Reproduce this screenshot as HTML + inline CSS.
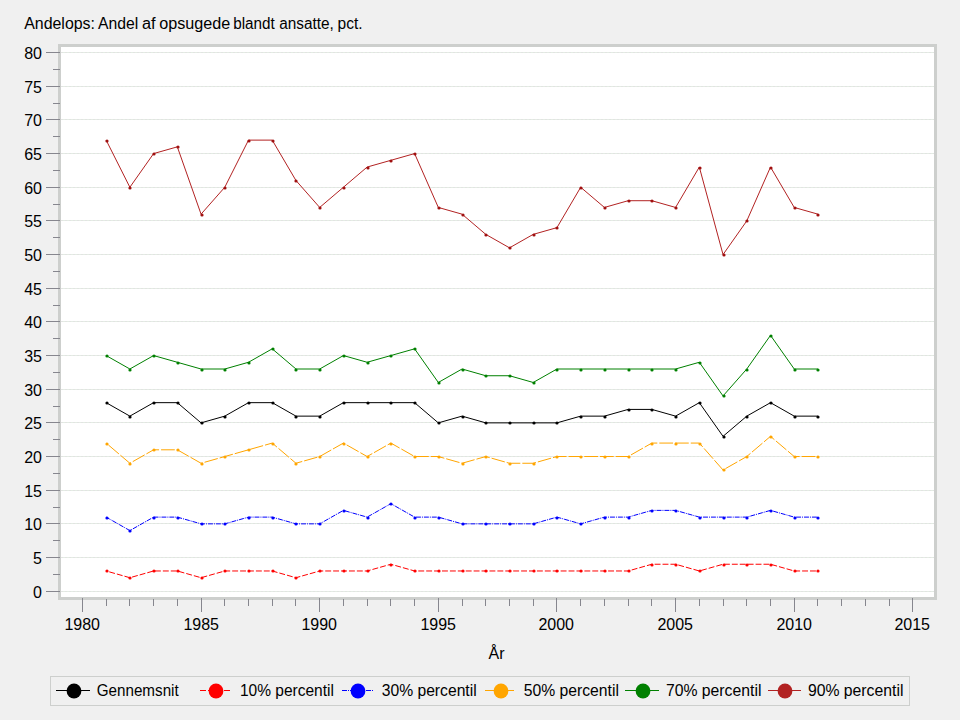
<!DOCTYPE html>
<html><head><meta charset="utf-8"><style>
html,body{margin:0;padding:0;background:#f0f0f0;}
svg{display:block;font-family:"Liberation Sans", sans-serif;}
text{fill:#000;}
</style></head><body>
<svg width="960" height="720" viewBox="0 0 960 720">
<rect x="0" y="0" width="960" height="720" fill="#f0f0f0"/>
<g font-size="16"><text x="24.2" y="29" textLength="70.8" lengthAdjust="spacingAndGlyphs">Andelops:</text><text x="97.9" y="29" textLength="40.3" lengthAdjust="spacingAndGlyphs">Andel</text><text x="142.0" y="29" textLength="13.6" lengthAdjust="spacingAndGlyphs">af</text><text x="159.3" y="29" textLength="71.0" lengthAdjust="spacingAndGlyphs">opsugede</text><text x="233.2" y="29" textLength="41.6" lengthAdjust="spacingAndGlyphs">blandt</text><text x="279.2" y="29" textLength="54.6" lengthAdjust="spacingAndGlyphs">ansatte,</text><text x="337.6" y="29" textLength="25.0" lengthAdjust="spacingAndGlyphs">pct.</text></g>
<rect x="58" y="44" width="879" height="556" fill="#cdcfcd"/>
<rect x="61" y="47" width="873" height="550" fill="#ffffff"/>
<path d="M61 591.5H934 M61 557.5H934 M61 523.5H934 M61 490.5H934 M61 456.5H934 M61 422.5H934 M61 389.5H934 M61 355.5H934 M61 321.5H934 M61 288.5H934 M61 254.5H934 M61 220.5H934 M61 187.5H934 M61 153.5H934 M61 119.5H934 M61 86.5H934 M61 52.5H934" stroke="#e2e3e2" stroke-width="1" fill="none" stroke-dasharray="2 2" stroke-dashoffset="0"/>
<path d="M61 591.5H934 M61 557.5H934 M61 523.5H934 M61 490.5H934 M61 456.5H934 M61 422.5H934 M61 389.5H934 M61 355.5H934 M61 321.5H934 M61 288.5H934 M61 254.5H934 M61 220.5H934 M61 187.5H934 M61 153.5H934 M61 119.5H934 M61 86.5H934 M61 52.5H934" stroke="#e3ece3" stroke-width="1" fill="none" stroke-dasharray="2 2" stroke-dashoffset="2"/>
<path d="M46 591.5H60 M53 574.5H60 M46 557.5H60 M53 540.5H60 M46 523.5H60 M53 507.5H60 M46 490.5H60 M53 473.5H60 M46 456.5H60 M53 439.5H60 M46 422.5H60 M53 406.5H60 M46 389.5H60 M53 372.5H60 M46 355.5H60 M53 338.5H60 M46 321.5H60 M53 305.5H60 M46 288.5H60 M53 271.5H60 M46 254.5H60 M53 237.5H60 M46 220.5H60 M53 204.5H60 M46 187.5H60 M53 170.5H60 M46 153.5H60 M53 136.5H60 M46 119.5H60 M53 103.5H60 M46 86.5H60 M53 69.5H60 M46 52.5H60 M82.5 598V612 M106.5 599V606 M129.5 599V606 M153.5 599V606 M177.5 599V606 M201.5 598V612 M224.5 599V606 M248.5 599V606 M272.5 599V606 M295.5 599V606 M319.5 598V612 M343.5 599V606 M367.5 599V606 M390.5 599V606 M414.5 599V606 M438.5 598V612 M462.5 599V606 M485.5 599V606 M509.5 599V606 M533.5 599V606 M556.5 598V612 M580.5 599V606 M604.5 599V606 M628.5 599V606 M651.5 599V606 M675.5 598V612 M699.5 599V606 M723.5 599V606 M746.5 599V606 M770.5 599V606 M794.5 598V612 M817.5 599V606 M841.5 599V606 M865.5 599V606 M889.5 599V606 M912.5 598V612" stroke="#86868e" stroke-width="1" fill="none" shape-rendering="crispEdges"/>
<g font-size="16"><text x="42" y="597.5" text-anchor="end">0</text><text x="42" y="563.5" text-anchor="end">5</text><text x="42" y="529.5" text-anchor="end">10</text><text x="42" y="496.5" text-anchor="end">15</text><text x="42" y="462.5" text-anchor="end">20</text><text x="42" y="428.5" text-anchor="end">25</text><text x="42" y="395.5" text-anchor="end">30</text><text x="42" y="361.5" text-anchor="end">35</text><text x="42" y="327.5" text-anchor="end">40</text><text x="42" y="294.5" text-anchor="end">45</text><text x="42" y="260.5" text-anchor="end">50</text><text x="42" y="226.5" text-anchor="end">55</text><text x="42" y="193.5" text-anchor="end">60</text><text x="42" y="159.5" text-anchor="end">65</text><text x="42" y="125.5" text-anchor="end">70</text><text x="42" y="92.5" text-anchor="end">75</text><text x="42" y="58.5" text-anchor="end">80</text><text x="82.2" y="630" text-anchor="middle">1980</text><text x="201.2" y="630" text-anchor="middle">1985</text><text x="319.2" y="630" text-anchor="middle">1990</text><text x="438.2" y="630" text-anchor="middle">1995</text><text x="556.2" y="630" text-anchor="middle">2000</text><text x="675.2" y="630" text-anchor="middle">2005</text><text x="794.2" y="630" text-anchor="middle">2010</text><text x="912.2" y="630" text-anchor="middle">2015</text><text x="488.5" y="659">År</text></g>
<path d="M106.15 402.67 L129.87 416.14 L153.60 402.67 L177.33 402.67 L201.05 422.87 L224.78 416.14 L248.51 402.67 L272.23 402.67 L295.96 416.14 L319.69 416.14 L343.41 402.67 L367.14 402.67 L390.87 402.67 L414.60 402.67 L438.32 422.87 L462.05 416.14 L485.78 422.87 L509.50 422.87 L533.23 422.87 L556.96 422.87 L580.68 416.14 L604.41 416.14 L628.14 409.41 L651.86 409.41 L675.59 416.14 L699.32 402.67 L723.04 436.33 L746.77 416.14 L770.50 402.67 L794.22 416.14 L817.95 416.14" stroke="#000000" stroke-width="1" fill="none"/>
<g fill="#000000"><circle cx="107" cy="403" r="1.6"/><circle cx="130" cy="417" r="1.6"/><circle cx="154" cy="403" r="1.6"/><circle cx="178" cy="403" r="1.6"/><circle cx="202" cy="423" r="1.6"/><circle cx="225" cy="417" r="1.6"/><circle cx="249" cy="403" r="1.6"/><circle cx="273" cy="403" r="1.6"/><circle cx="296" cy="417" r="1.6"/><circle cx="320" cy="417" r="1.6"/><circle cx="344" cy="403" r="1.6"/><circle cx="368" cy="403" r="1.6"/><circle cx="391" cy="403" r="1.6"/><circle cx="415" cy="403" r="1.6"/><circle cx="439" cy="423" r="1.6"/><circle cx="463" cy="417" r="1.6"/><circle cx="486" cy="423" r="1.6"/><circle cx="510" cy="423" r="1.6"/><circle cx="534" cy="423" r="1.6"/><circle cx="557" cy="423" r="1.6"/><circle cx="581" cy="417" r="1.6"/><circle cx="605" cy="417" r="1.6"/><circle cx="629" cy="410" r="1.6"/><circle cx="652" cy="410" r="1.6"/><circle cx="676" cy="417" r="1.6"/><circle cx="700" cy="403" r="1.6"/><circle cx="724" cy="437" r="1.6"/><circle cx="747" cy="417" r="1.6"/><circle cx="771" cy="403" r="1.6"/><circle cx="795" cy="417" r="1.6"/><circle cx="818" cy="417" r="1.6"/></g>
<path d="M106.15 570.98 L129.87 577.71 L153.60 570.98 L177.33 570.98 L201.05 577.71 L224.78 570.98 L248.51 570.98 L272.23 570.98 L295.96 577.71 L319.69 570.98 L343.41 570.98 L367.14 570.98 L390.87 564.24 L414.60 570.98 L438.32 570.98 L462.05 570.98 L485.78 570.98 L509.50 570.98 L533.23 570.98 L556.96 570.98 L580.68 570.98 L604.41 570.98 L628.14 570.98 L651.86 564.24 L675.59 564.24 L699.32 570.98 L723.04 564.24 L746.77 564.24 L770.50 564.24 L794.22 570.98 L817.95 570.98" stroke="#ff0000" stroke-width="1" fill="none" stroke-dasharray="5.91 2" stroke-dashoffset="4.7"/>
<g fill="#ff0000"><circle cx="107" cy="571" r="1.6"/><circle cx="130" cy="578" r="1.6"/><circle cx="154" cy="571" r="1.6"/><circle cx="178" cy="571" r="1.6"/><circle cx="202" cy="578" r="1.6"/><circle cx="225" cy="571" r="1.6"/><circle cx="249" cy="571" r="1.6"/><circle cx="273" cy="571" r="1.6"/><circle cx="296" cy="578" r="1.6"/><circle cx="320" cy="571" r="1.6"/><circle cx="344" cy="571" r="1.6"/><circle cx="368" cy="571" r="1.6"/><circle cx="391" cy="565" r="1.6"/><circle cx="415" cy="571" r="1.6"/><circle cx="439" cy="571" r="1.6"/><circle cx="463" cy="571" r="1.6"/><circle cx="486" cy="571" r="1.6"/><circle cx="510" cy="571" r="1.6"/><circle cx="534" cy="571" r="1.6"/><circle cx="557" cy="571" r="1.6"/><circle cx="581" cy="571" r="1.6"/><circle cx="605" cy="571" r="1.6"/><circle cx="629" cy="571" r="1.6"/><circle cx="652" cy="565" r="1.6"/><circle cx="676" cy="565" r="1.6"/><circle cx="700" cy="571" r="1.6"/><circle cx="724" cy="565" r="1.6"/><circle cx="747" cy="565" r="1.6"/><circle cx="771" cy="565" r="1.6"/><circle cx="795" cy="571" r="1.6"/><circle cx="818" cy="571" r="1.6"/></g>
<path d="M106.15 517.12 L129.87 530.58 L153.60 517.12 L177.33 517.12 L201.05 523.85 L224.78 523.85 L248.51 517.12 L272.23 517.12 L295.96 523.85 L319.69 523.85 L343.41 510.39 L367.14 517.12 L390.87 503.65 L414.60 517.12 L438.32 517.12 L462.05 523.85 L485.78 523.85 L509.50 523.85 L533.23 523.85 L556.96 517.12 L580.68 523.85 L604.41 517.12 L628.14 517.12 L651.86 510.39 L675.59 510.39 L699.32 517.12 L723.04 517.12 L746.77 517.12 L770.50 510.39 L794.22 517.12 L817.95 517.12" stroke="#0000ff" stroke-width="1" fill="none" stroke-dasharray="4.94 0.99 0.99 0.99" stroke-dashoffset="0.85"/>
<g fill="#0000ff"><circle cx="107" cy="518" r="1.6"/><circle cx="130" cy="531" r="1.6"/><circle cx="154" cy="518" r="1.6"/><circle cx="178" cy="518" r="1.6"/><circle cx="202" cy="524" r="1.6"/><circle cx="225" cy="524" r="1.6"/><circle cx="249" cy="518" r="1.6"/><circle cx="273" cy="518" r="1.6"/><circle cx="296" cy="524" r="1.6"/><circle cx="320" cy="524" r="1.6"/><circle cx="344" cy="511" r="1.6"/><circle cx="368" cy="518" r="1.6"/><circle cx="391" cy="504" r="1.6"/><circle cx="415" cy="518" r="1.6"/><circle cx="439" cy="518" r="1.6"/><circle cx="463" cy="524" r="1.6"/><circle cx="486" cy="524" r="1.6"/><circle cx="510" cy="524" r="1.6"/><circle cx="534" cy="524" r="1.6"/><circle cx="557" cy="518" r="1.6"/><circle cx="581" cy="524" r="1.6"/><circle cx="605" cy="518" r="1.6"/><circle cx="629" cy="518" r="1.6"/><circle cx="652" cy="511" r="1.6"/><circle cx="676" cy="511" r="1.6"/><circle cx="700" cy="518" r="1.6"/><circle cx="724" cy="518" r="1.6"/><circle cx="747" cy="518" r="1.6"/><circle cx="771" cy="511" r="1.6"/><circle cx="795" cy="518" r="1.6"/><circle cx="818" cy="518" r="1.6"/></g>
<path d="M106.15 443.07 L129.87 463.26 L153.60 449.80 L177.33 449.80 L201.05 463.26 L224.78 456.53 L248.51 449.80 L272.23 443.07 L295.96 463.26 L319.69 456.53 L343.41 443.07 L367.14 456.53 L390.87 443.07 L414.60 456.53 L438.32 456.53 L462.05 463.26 L485.78 456.53 L509.50 463.26 L533.23 463.26 L556.96 456.53 L580.68 456.53 L604.41 456.53 L628.14 456.53 L651.86 443.07 L675.59 443.07 L699.32 443.07 L723.04 469.99 L746.77 456.53 L770.50 436.33 L794.22 456.53 L817.95 456.53" stroke="#ffa500" stroke-width="1" fill="none" stroke-dasharray="13.72 2" stroke-dashoffset="12.7"/>
<g fill="#ffa500"><circle cx="107" cy="444" r="1.6"/><circle cx="130" cy="464" r="1.6"/><circle cx="154" cy="450" r="1.6"/><circle cx="178" cy="450" r="1.6"/><circle cx="202" cy="464" r="1.6"/><circle cx="225" cy="457" r="1.6"/><circle cx="249" cy="450" r="1.6"/><circle cx="273" cy="444" r="1.6"/><circle cx="296" cy="464" r="1.6"/><circle cx="320" cy="457" r="1.6"/><circle cx="344" cy="444" r="1.6"/><circle cx="368" cy="457" r="1.6"/><circle cx="391" cy="444" r="1.6"/><circle cx="415" cy="457" r="1.6"/><circle cx="439" cy="457" r="1.6"/><circle cx="463" cy="464" r="1.6"/><circle cx="486" cy="457" r="1.6"/><circle cx="510" cy="464" r="1.6"/><circle cx="534" cy="464" r="1.6"/><circle cx="557" cy="457" r="1.6"/><circle cx="581" cy="457" r="1.6"/><circle cx="605" cy="457" r="1.6"/><circle cx="629" cy="457" r="1.6"/><circle cx="652" cy="444" r="1.6"/><circle cx="676" cy="444" r="1.6"/><circle cx="700" cy="444" r="1.6"/><circle cx="724" cy="470" r="1.6"/><circle cx="747" cy="457" r="1.6"/><circle cx="771" cy="437" r="1.6"/><circle cx="795" cy="457" r="1.6"/><circle cx="818" cy="457" r="1.6"/></g>
<path d="M106.15 355.55 L129.87 369.01 L153.60 355.55 L177.33 362.28 L201.05 369.01 L224.78 369.01 L248.51 362.28 L272.23 348.82 L295.96 369.01 L319.69 369.01 L343.41 355.55 L367.14 362.28 L390.87 355.55 L414.60 348.82 L438.32 382.48 L462.05 369.01 L485.78 375.74 L509.50 375.74 L533.23 382.48 L556.96 369.01 L580.68 369.01 L604.41 369.01 L628.14 369.01 L651.86 369.01 L675.59 369.01 L699.32 362.28 L723.04 395.94 L746.77 369.01 L770.50 335.35 L794.22 369.01 L817.95 369.01" stroke="#008000" stroke-width="1" fill="none"/>
<g fill="#008000"><circle cx="107" cy="356" r="1.6"/><circle cx="130" cy="370" r="1.6"/><circle cx="154" cy="356" r="1.6"/><circle cx="178" cy="363" r="1.6"/><circle cx="202" cy="370" r="1.6"/><circle cx="225" cy="370" r="1.6"/><circle cx="249" cy="363" r="1.6"/><circle cx="273" cy="349" r="1.6"/><circle cx="296" cy="370" r="1.6"/><circle cx="320" cy="370" r="1.6"/><circle cx="344" cy="356" r="1.6"/><circle cx="368" cy="363" r="1.6"/><circle cx="391" cy="356" r="1.6"/><circle cx="415" cy="349" r="1.6"/><circle cx="439" cy="383" r="1.6"/><circle cx="463" cy="370" r="1.6"/><circle cx="486" cy="376" r="1.6"/><circle cx="510" cy="376" r="1.6"/><circle cx="534" cy="383" r="1.6"/><circle cx="557" cy="370" r="1.6"/><circle cx="581" cy="370" r="1.6"/><circle cx="605" cy="370" r="1.6"/><circle cx="629" cy="370" r="1.6"/><circle cx="652" cy="370" r="1.6"/><circle cx="676" cy="370" r="1.6"/><circle cx="700" cy="363" r="1.6"/><circle cx="724" cy="396" r="1.6"/><circle cx="747" cy="370" r="1.6"/><circle cx="771" cy="336" r="1.6"/><circle cx="795" cy="370" r="1.6"/><circle cx="818" cy="370" r="1.6"/></g>
<path d="M106.15 140.12 L129.87 187.25 L153.60 153.59 L177.33 146.85 L201.05 214.17 L224.78 187.25 L248.51 140.12 L272.23 140.12 L295.96 180.51 L319.69 207.44 L343.41 187.25 L367.14 167.05 L390.87 160.32 L414.60 153.59 L438.32 207.44 L462.05 214.17 L485.78 234.37 L509.50 247.83 L533.23 234.37 L556.96 227.64 L580.68 187.25 L604.41 207.44 L628.14 200.71 L651.86 200.71 L675.59 207.44 L699.32 167.05 L723.04 254.57 L746.77 220.91 L770.50 167.05 L794.22 207.44 L817.95 214.17" stroke="#b22222" stroke-width="1" fill="none"/>
<g fill="#a01010"><circle cx="107" cy="141" r="1.6"/><circle cx="130" cy="188" r="1.6"/><circle cx="154" cy="154" r="1.6"/><circle cx="178" cy="147" r="1.6"/><circle cx="202" cy="215" r="1.6"/><circle cx="225" cy="188" r="1.6"/><circle cx="249" cy="141" r="1.6"/><circle cx="273" cy="141" r="1.6"/><circle cx="296" cy="181" r="1.6"/><circle cx="320" cy="208" r="1.6"/><circle cx="344" cy="188" r="1.6"/><circle cx="368" cy="168" r="1.6"/><circle cx="391" cy="161" r="1.6"/><circle cx="415" cy="154" r="1.6"/><circle cx="439" cy="208" r="1.6"/><circle cx="463" cy="215" r="1.6"/><circle cx="486" cy="235" r="1.6"/><circle cx="510" cy="248" r="1.6"/><circle cx="534" cy="235" r="1.6"/><circle cx="557" cy="228" r="1.6"/><circle cx="581" cy="188" r="1.6"/><circle cx="605" cy="208" r="1.6"/><circle cx="629" cy="201" r="1.6"/><circle cx="652" cy="201" r="1.6"/><circle cx="676" cy="208" r="1.6"/><circle cx="700" cy="168" r="1.6"/><circle cx="724" cy="255" r="1.6"/><circle cx="747" cy="221" r="1.6"/><circle cx="771" cy="168" r="1.6"/><circle cx="795" cy="208" r="1.6"/><circle cx="818" cy="215" r="1.6"/></g>
<rect x="50.5" y="676.5" width="859" height="29" fill="none" stroke="#cdcfcd" stroke-width="1" shape-rendering="crispEdges"/>
<path d="M56 690.5H90" stroke="#000000" stroke-width="1" shape-rendering="crispEdges"/>
<circle cx="74" cy="691" r="7.4" fill="#000000"/>
<text x="96.7" y="696" font-size="16" textLength="82" lengthAdjust="spacingAndGlyphs">Gennemsnit</text>
<path d="M200 690.5H230" stroke="#ff0000" stroke-width="1" stroke-dasharray="5.91 2" shape-rendering="crispEdges"/>
<circle cx="216" cy="691" r="7.4" fill="#ff0000"/>
<text x="239.9" y="696" font-size="16" textLength="94" lengthAdjust="spacingAndGlyphs">10% percentil</text>
<path d="M342 690.5H373" stroke="#0000ff" stroke-width="1" stroke-dasharray="4.94 0.99 0.99 0.99" shape-rendering="crispEdges"/>
<circle cx="358" cy="691" r="7.4" fill="#0000ff"/>
<text x="381.7" y="696" font-size="16" textLength="95.0" lengthAdjust="spacingAndGlyphs">30% percentil</text>
<path d="M485 690.5H515" stroke="#ffa500" stroke-width="1" stroke-dasharray="13.72 2" shape-rendering="crispEdges"/>
<circle cx="501" cy="691" r="7.4" fill="#ffa500"/>
<text x="523.7" y="696" font-size="16" textLength="95.2" lengthAdjust="spacingAndGlyphs">50% percentil</text>
<path d="M625 690.5H659" stroke="#008000" stroke-width="1" shape-rendering="crispEdges"/>
<circle cx="643" cy="691" r="7.4" fill="#008000"/>
<text x="665.9" y="696" font-size="16" textLength="95.5" lengthAdjust="spacingAndGlyphs">70% percentil</text>
<path d="M768 690.5H801" stroke="#b22222" stroke-width="1" shape-rendering="crispEdges"/>
<circle cx="785" cy="691" r="7.4" fill="#b22222"/>
<text x="807.9" y="696" font-size="16" textLength="95.5" lengthAdjust="spacingAndGlyphs">90% percentil</text>
</svg>
</body></html>
